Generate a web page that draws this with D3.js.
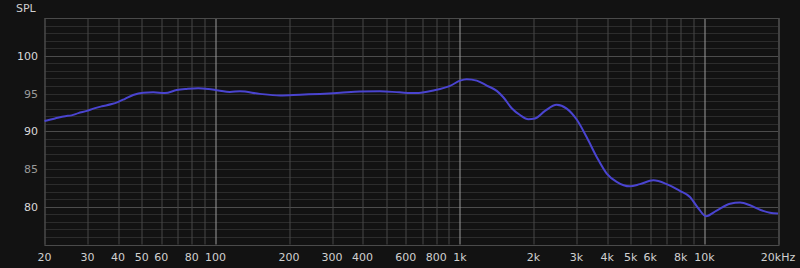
<!DOCTYPE html>
<html>
<head>
<meta charset="utf-8">
<script src="https://cdn.jsdelivr.net/npm/d3@7"></script>
<style>
  body { margin: 0; background: #121212; }
  svg { display: block; font-family: "DejaVu Sans", sans-serif; }
</style>
</head>
<body>
<div id="chart"></div>
<script>
// frequency response
let freqs = [20, 22.1, 24.3, 25.8, 27.5, 29.8, 31.7, 34.3, 37.7, 40.1, 42.7, 46.1, 50.7, 55.7, 62.2, 69.5,
  76.3, 85.1, 93.5, 102.8, 114.7, 126, 152, 184, 222, 268, 324, 390, 471, 566, 660, 780, 911, 1001,
  1066, 1172, 1288, 1415, 1505, 1629, 1762, 1904, 2028, 2229, 2488, 2734, 3004, 3302, 3627, 3986,
  4378, 4960, 5450, 6180, 7010, 7940, 8730, 9440, 10150, 11220, 12730, 13990, 15370, 16890, 18540, 20000];
let spl = [91.35, 91.7, 92.0, 92.1, 92.4, 92.7, 93.0, 93.3, 93.6, 93.9, 94.3, 94.8, 95.1, 95.15, 95.05, 95.45,
  95.6, 95.7, 95.6, 95.4, 95.2, 95.3, 94.95, 94.75, 94.85, 94.95, 95.1, 95.25, 95.3, 95.15, 95.05, 95.4, 96.0, 96.7,
  96.9, 96.7, 96.05, 95.35, 94.5, 93.05, 92.15, 91.6, 91.7, 92.7, 93.5, 93.0, 91.55, 89.2, 86.6, 84.4,
  83.3, 82.7, 83.0, 83.5, 83.0, 82.1, 81.3, 79.8, 78.75, 79.5, 80.4, 80.55, 80.2, 79.6, 79.2, 79.1];

let xTicks = [20, 30, 40, 50, 60, 80, 100, 200, 300, 400, 600, 800, 1000, 2000, 3000, 4000, 5000, 6000, 8000, 10000, 20000];
let xTickLabels = ["20", "30", "40", "50", "60", "80", "100", "200", "300", "400", "600", "800", "1k", "2k", "3k", "4k", "5k", "6k", "8k", "10k", "20kHz"];
let yTicks = [80, 85, 90, 95, 100];

let svgWidth = 800;
let svgHeight = 268;
let margin = { top: 18, right: 22, bottom: 23.5, left: 44.5 };
let width = svgWidth - margin.left - margin.right;
let height = svgHeight - margin.top - margin.bottom;

let svg = d3.select("#chart").append("svg")
  .attr("width", svgWidth)
  .attr("height", svgHeight);

svg.append("rect").attr("width", svgWidth).attr("height", svgHeight).attr("fill", "#121212");

let g = svg.append("g").attr("transform", `translate(${margin.left}, ${margin.top})`);

let x = d3.scaleLog().domain([20, 20000]).range([0, width]);
let y = d3.scaleLinear().domain([75, 105]).range([height, 0]);

// horizontal grid, every 1 dB
let hLines = d3.range(75, 106);
g.selectAll(".hgrid").data(hLines).enter().append("line")
  .attr("x1", 0).attr("x2", width)
  .attr("y1", d => Math.round(y(d)) + 0.5).attr("y2", d => Math.round(y(d)) + 0.5)
  .attr("stroke", d => d % 10 === 0 ? "#4c4c4c" : "#2c2c2c")
  .attr("stroke-width", 1);

// vertical grid 1..9 per decade
let vLines = [];
[10, 100, 1000, 10000].forEach(dec => {
  for (let k = 1; k <= 9; k++) {
    let f = dec * k;
    if (f >= 20 && f <= 20000) vLines.push(f);
  }
});
vLines.push(20000);
g.selectAll(".vgrid").data(vLines).enter().append("line")
  .attr("y1", 0).attr("y2", height)
  .attr("x1", d => Math.round(x(d)) + 0.5).attr("x2", d => Math.round(x(d)) + 0.5)
  .attr("stroke", d => [100, 1000, 10000].includes(d) ? "#9a9a9a" : "#474747")
  .attr("stroke-width", 1);

// frame
g.append("rect")
  .attr("x", 0.5).attr("y", 0.5)
  .attr("width", Math.round(width)).attr("height", Math.round(height))
  .attr("fill", "none").attr("stroke", "#4a4a4a");

// y labels
svg.selectAll(".ylab").data(yTicks).enter().append("text")
  .attr("x", 38)
  .attr("y", d => margin.top + y(d) + 4)
  .attr("text-anchor", "end")
  .attr("font-size", "11px")
  .attr("fill", d => d % 10 === 0 ? "#d8d8d8" : "#9a9a9a")
  .text(d => d);

svg.append("text")
  .attr("x", 16).attr("y", 12)
  .attr("font-size", "11px")
  .attr("fill", "#cfcfcf")
  .text("SPL");

// x labels
svg.selectAll(".xlab").data(xTicks).enter().append("text")
  .attr("x", d => margin.left + x(d))
  .attr("y", 261)
  .attr("text-anchor", "middle")
  .attr("font-size", "11px")
  .attr("fill", "#d0d0d0")
  .text((d, i) => xTickLabels[i]);

// curve
let data = freqs.map((f, i) => [f, spl[i]]);
let line = d3.line()
  .x(d => x(d[0]))
  .y(d => y(d[1]))
  .curve(d3.curveMonotoneX);

g.append("path")
  .datum(data)
  .attr("d", line)
  .attr("fill", "none")
  .attr("stroke", "#4a44d0")
  .attr("stroke-width", 2);
</script>
</body>
</html>
